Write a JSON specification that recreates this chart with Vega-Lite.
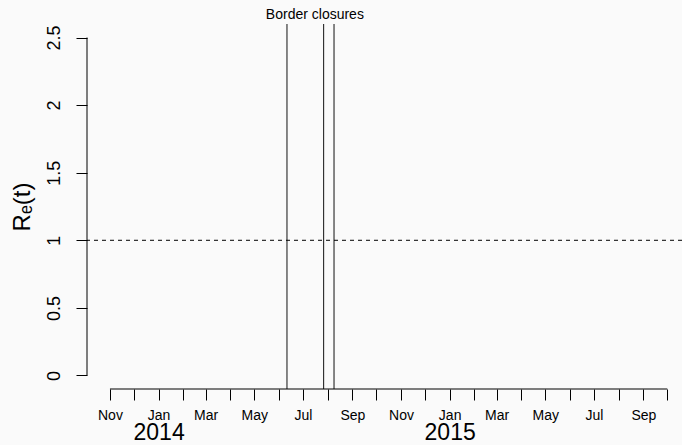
{
  "$schema": "https://vega.github.io/schema/vega-lite/v6.json",
  "width": 595,
  "height": 365,
  "autosize": "none",
  "padding": {"left": 87, "top": 24, "right": 0, "bottom": 56},
  "background": "#fafafa",
  "config": {
    "view": {"stroke": null},
    "font": "Liberation Sans",
    "axis": {
      "grid": false,
      "labelColor": "black",
      "tickColor": "black",
      "tickWidth": 1,
      "titleColor": "black",
      "labelFlush": false,
      "labelOverlap": false
    }
  },
  "datasets": {
    "closures": [
      {"date": "2014-06-11", "event": "Border closure"},
      {"date": "2014-07-27", "event": "Border closure"},
      {"date": "2014-08-09", "event": "Border closure"}
    ],
    "annotation": [
      {"date": "2014-07-16", "label": "Border closures"}
    ],
    "threshold": [
      {"level": 1}
    ],
    "xaxisline": [
      {"from": "2013-11-01", "to": "2015-10-01"}
    ],
    "yaxisline": [
      {"from": 0, "to": 2.5}
    ]
  },
  "resolve": {"axis": {"x": "independent"}},
  "layer": [
    {
      "data": {"name": "closures"},
      "mark": {"type": "rule", "color": "#111111", "strokeWidth": 1},
      "encoding": {
        "x": {
          "field": "date",
          "type": "temporal",
          "scale": {
            "type": "utc",
            "domain": [
              {"year": 2013, "month": 10, "date": 3, "hours": 5, "utc": true},
              {"year": 2015, "month": 10, "date": 19, "hours": 10, "utc": true}
            ]
          },
          "axis": {
            "orient": "bottom",
            "title": null,
            "domain": false,
            "tickSize": 11,
            "labelFontSize": 14,
            "labelPadding": 8,
            "values": [
              {"year": 2013, "month": 11, "date": 1, "utc": true},
              {"year": 2013, "month": 12, "date": 1, "utc": true},
              {"year": 2014, "month": 1, "date": 1, "utc": true},
              {"year": 2014, "month": 2, "date": 1, "utc": true},
              {"year": 2014, "month": 3, "date": 1, "utc": true},
              {"year": 2014, "month": 4, "date": 1, "utc": true},
              {"year": 2014, "month": 5, "date": 1, "utc": true},
              {"year": 2014, "month": 6, "date": 1, "utc": true},
              {"year": 2014, "month": 7, "date": 1, "utc": true},
              {"year": 2014, "month": 8, "date": 1, "utc": true},
              {"year": 2014, "month": 9, "date": 1, "utc": true},
              {"year": 2014, "month": 10, "date": 1, "utc": true},
              {"year": 2014, "month": 11, "date": 1, "utc": true},
              {"year": 2014, "month": 12, "date": 1, "utc": true},
              {"year": 2015, "month": 1, "date": 1, "utc": true},
              {"year": 2015, "month": 2, "date": 1, "utc": true},
              {"year": 2015, "month": 3, "date": 1, "utc": true},
              {"year": 2015, "month": 4, "date": 1, "utc": true},
              {"year": 2015, "month": 5, "date": 1, "utc": true},
              {"year": 2015, "month": 6, "date": 1, "utc": true},
              {"year": 2015, "month": 7, "date": 1, "utc": true},
              {"year": 2015, "month": 8, "date": 1, "utc": true},
              {"year": 2015, "month": 9, "date": 1, "utc": true},
              {"year": 2015, "month": 10, "date": 1, "utc": true}
            ],
            "labelExpr": "utcmonth(datum.value) % 2 == 0 ? utcFormat(datum.value, '%b') : ''"
          }
        }
      }
    },
    {
      "data": {"name": "annotation"},
      "mark": {"type": "text", "fontSize": 14, "align": "center", "baseline": "alphabetic", "color": "black"},
      "encoding": {
        "x": {
          "field": "date",
          "type": "temporal",
          "axis": {
            "orient": "bottom",
            "title": null,
            "domain": false,
            "ticks": false,
            "tickSize": 0,
            "labelFontSize": 23,
            "labelPadding": 32,
            "values": [
              {"year": 2014, "month": 1, "date": 1, "utc": true},
              {"year": 2015, "month": 1, "date": 1, "utc": true}
            ],
            "labelExpr": "utcFormat(datum.value, '%Y')"
          }
        },
        "y": {"datum": 2.64},
        "text": {"field": "label"}
      }
    },
    {
      "data": {"name": "threshold"},
      "mark": {"type": "rule", "color": "black", "strokeWidth": 1, "strokeDash": [4, 4]},
      "encoding": {
        "y": {
          "field": "level",
          "type": "quantitative",
          "scale": {"domain": [-0.1, 2.6], "nice": false, "zero": false},
          "axis": {
            "values": [0, 0.5, 1, 1.5, 2, 2.5],
            "labelExpr": "'' + datum.value",
            "domain": false,
            "tickSize": 11,
            "labelAngle": -90,
            "labelAlign": "center",
            "labelBaseline": "bottom",
            "labelFontSize": 18,
            "labelPadding": 13,
            "title": "Rₑ(t)",
            "titleFontSize": 24,
            "titleFontWeight": "normal",
            "titlePadding": 11
          }
        }
      }
    },
    {
      "data": {"name": "xaxisline"},
      "mark": {"type": "rule", "color": "black", "strokeWidth": 1},
      "encoding": {
        "x": {"field": "from", "type": "temporal", "axis": null},
        "x2": {"field": "to"},
        "y": {"datum": -0.1}
      }
    },
    {
      "data": {"name": "yaxisline"},
      "mark": {"type": "rule", "color": "black", "strokeWidth": 1},
      "encoding": {
        "x": {"datum": {"year": 2013, "month": 10, "date": 3, "hours": 5, "utc": true}, "type": "temporal", "axis": null},
        "y": {"field": "from", "type": "quantitative"},
        "y2": {"field": "to"}
      }
    }
  ]
}
